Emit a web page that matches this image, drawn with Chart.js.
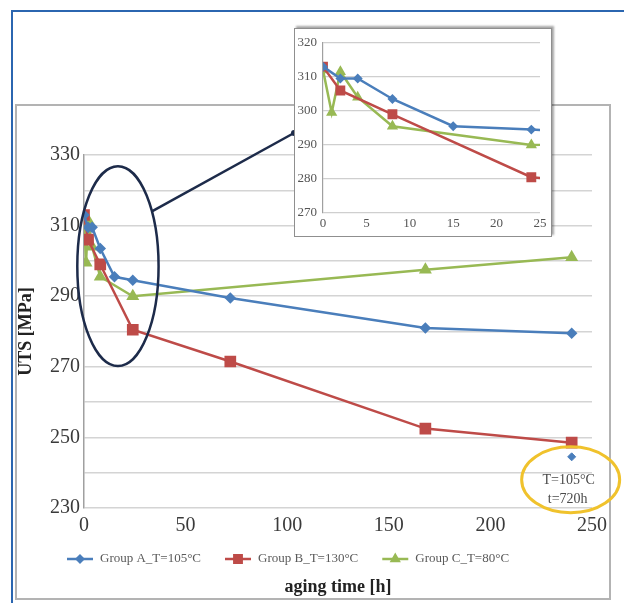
<!DOCTYPE html>
<html>
<head>
<meta charset="utf-8">
<script src="https://cdn.jsdelivr.net/npm/chart.js@4.4.1/dist/chart.umd.min.js"></script>
<style>
  body { margin: 0; width: 624px; height: 603px; background: #fff; overflow: hidden; position: relative; }
  #frameBlue { position: absolute; left: 11px; top: 10px; width: 640px; height: 620px;
    border-left: 2px solid #2b66b0; border-top: 2px solid #2b66b0; }
  #frameGray { position: absolute; left: 15px; top: 104px; width: 592px; height: 492px;
    border: 2px solid #b3b3b3; }
  #mainChart { position: absolute; left: 0; top: 0; }
  #inset { position: absolute; left: 294px; top: 28px; width: 256px; height: 207px;
    background: #fff; border: 1px solid #8f8f8f; box-shadow: 2px -2px 2px rgba(0,0,0,0.35); }
  #insetChart { display: block; }
</style>
</head>
<body>
<div id="frameBlue"></div>
<div id="frameGray"></div>
<canvas id="mainChart" width="624" height="603"></canvas>
<div id="inset"><canvas id="insetChart" width="256" height="207"></canvas></div>
<script>
// aging time [h] and UTS [MPa] per group
const hoursA = [0, 2, 4, 8, 15, 24, 72, 168, 240];
const utsA = [313, 309.5, 309.5, 303.5, 295.5, 294.5, 289.5, 281, 279.5];
const hoursB = [0, 2, 8, 24, 72, 168, 240];
const utsB = [313, 306, 299, 280.5, 271.5, 252.5, 248.5];
const hoursC = [0, 1, 2, 4, 8, 24, 168, 240];
const utsC = [312, 299.5, 311.5, 304, 295.5, 290, 297.5, 301];
// single point, group A at 105°C after 720h (drawn at 240 on the axis)
const hoursA720 = [240];
const utsA720 = [244.5];

const seriesNames = ['Group A_T=105°C', 'Group B_T=130°C', 'Group C_T=80°C'];
const seriesColors = ['#4a7ebb', '#be4b48', '#98b954'];
const mainYLabels = [230, 250, 270, 290, 310, 330];
const insetYLabels = [270, 280, 290, 300, 310, 320];

const SERIF = '"Liberation Serif", "Times New Roman", serif';

function toPoints(xs, ys) {
    return xs.map((x, i) => ({ x: x, y: ys[i] }));
}

function buildDatasets(scale) {
    return [
        { label: seriesNames[0], data: toPoints(hoursA, utsA), borderColor: seriesColors[0], backgroundColor: seriesColors[0],
          pointStyle: 'rectRot', pointRadius: 4 * scale, borderWidth: 2.5, showLine: true },
        { label: seriesNames[1], data: toPoints(hoursB, utsB), borderColor: seriesColors[1], backgroundColor: seriesColors[1],
          pointStyle: 'rect', pointRadius: 6.5 * scale, borderWidth: 2.5, showLine: true },
        { label: seriesNames[2], data: toPoints(hoursC, utsC), borderColor: seriesColors[2], backgroundColor: seriesColors[2],
          pointStyle: 'triangle', pointRadius: 5 * scale, borderWidth: 2.5, showLine: true },
        { label: 'A 720h', data: toPoints(hoursA720, utsA720), borderColor: seriesColors[0], backgroundColor: seriesColors[0],
          pointStyle: 'rectRot', pointRadius: 4 * scale, borderWidth: 1, showLine: false, noLegend: true }
    ];
}

// ellipses, connector, note and the legend row of the main chart
const notesPlugin = {
    id: 'notes',
    afterDatasetsDraw(chart) {
        const ctx = chart.ctx;
        const xs = chart.scales.x, ys = chart.scales.y;

        // dark ellipse round the first 24 hours
        const cx = xs.getPixelForValue(16.7), cy = ys.getPixelForValue(298.5);
        const rx = xs.getPixelForValue(36.7) - cx, ry = cy - ys.getPixelForValue(326.8);
        ctx.save();
        ctx.strokeStyle = '#1d2b4a';
        ctx.lineWidth = 2.5;
        ctx.beginPath();
        ctx.ellipse(cx, cy, rx, ry, 0, 0, Math.PI * 2);
        ctx.stroke();
        const a = -0.58;
        ctx.beginPath();
        ctx.moveTo(cx + rx * Math.cos(a), cy + ry * Math.sin(a));
        ctx.lineTo(294, 133);
        ctx.stroke();
        ctx.fillStyle = '#1d2b4a';
        ctx.beginPath();
        ctx.arc(294, 133, 3, 0, Math.PI * 2);
        ctx.fill();

        // yellow ellipse round the 720h point
        const yx = xs.getPixelForValue(239.5), yy = ys.getPixelForValue(238);
        ctx.strokeStyle = '#f0c22c';
        ctx.lineWidth = 3;
        ctx.beginPath();
        ctx.ellipse(yx, yy, 49, 33, 0, 0, Math.PI * 2);
        ctx.stroke();
        ctx.fillStyle = '#4a4a4a';
        ctx.font = '14px ' + SERIF;
        ctx.textAlign = 'center';
        ctx.textBaseline = 'middle';
        ctx.fillText('T=105°C', yx - 2, yy + 1);
        ctx.fillText('t=720h', yx - 3, yy + 20);
        ctx.restore();
    },
    afterDraw(chart) {
        const ctx = chart.ctx;
        let x = 67;
        const y = 559;
        ctx.save();
        ctx.font = '13px ' + SERIF;
        ctx.textBaseline = 'middle';
        ctx.textAlign = 'left';
        chart.data.datasets.forEach(ds => {
            if (ds.noLegend) return;
            ctx.strokeStyle = ds.borderColor;
            ctx.fillStyle = ds.backgroundColor;
            ctx.lineWidth = 2.5;
            ctx.beginPath();
            ctx.moveTo(x, y);
            ctx.lineTo(x + 26, y);
            ctx.stroke();
            Chart.helpers.drawPoint(ctx, { pointStyle: ds.pointStyle, radius: ds.pointRadius * 0.8, borderWidth: 1, rotation: 0 }, x + 13, y);
            ctx.fillStyle = '#5a5a5a';
            ctx.fillText(ds.label, x + 33, y);
            x += 33 + ctx.measureText(ds.label).width + 24;
        });
        ctx.restore();
    }
};

new Chart(document.getElementById('mainChart'), {
    type: 'scatter',
    data: { datasets: buildDatasets(1) },
    options: {
        responsive: false,
        animation: false,
        layout: { padding: { left: 16, right: 32, top: 155, bottom: 5 } },
        plugins: { legend: { display: false }, tooltip: { enabled: false } },
        scales: {
            x: {
                type: 'linear', min: 0, max: 250,
                afterFit(scale) { scale.height = 90; },
                ticks: { stepSize: 50, padding: 6, color: '#3a3a3a', font: { family: SERIF, size: 20 } },
                grid: { display: false, drawTicks: false },
                border: { display: false },
                title: { display: true, text: 'aging time [h]', color: '#222', padding: { top: 0, bottom: 0 },
                    font: { family: SERIF, size: 18, weight: 'bold' } }
            },
            y: {
                min: 230, max: 330,
                afterFit(scale) { scale.width = 68; },
                ticks: { stepSize: 10, padding: 4, color: '#3a3a3a', font: { family: SERIF, size: 20 },
                    callback: v => mainYLabels.includes(v) ? v : '' },
                grid: { color: '#d4d4d4', lineWidth: 1.5, drawTicks: false },
                border: { display: true, color: '#a0a0a0', width: 1.5 },
                title: { display: true, text: 'UTS [MPa]', color: '#222', padding: { top: 0, bottom: 0 },
                    font: { family: SERIF, size: 18, weight: 'bold' } }
            }
        }
    },
    plugins: [notesPlugin]
});

// zoomed view of the first hours
new Chart(document.getElementById('insetChart'), {
    type: 'scatter',
    data: { datasets: buildDatasets(0.8) },
    options: {
        responsive: false,
        animation: false,
        layout: { padding: { left: 0, right: 11, top: 6, bottom: 0 } },
        plugins: { legend: { display: false }, tooltip: { enabled: false } },
        scales: {
            x: {
                type: 'linear', min: 0, max: 25,
                afterFit(scale) { scale.height = 23; },
                ticks: { stepSize: 5, padding: 3, color: '#555', font: { family: SERIF, size: 13 } },
                grid: { display: false, drawTicks: false },
                border: { display: false }
            },
            y: {
                min: 270, max: 320,
                afterFit(scale) { scale.width = 28; },
                ticks: { stepSize: 10, padding: 6, color: '#555', font: { family: SERIF, size: 13 },
                    callback: v => insetYLabels.includes(v) ? v : '' },
                grid: { color: '#cfcfcf', lineWidth: 1.2, drawTicks: false },
                border: { display: true, color: '#a0a0a0', width: 1.2 }
            }
        }
    }
});
</script>
</body>
</html>
